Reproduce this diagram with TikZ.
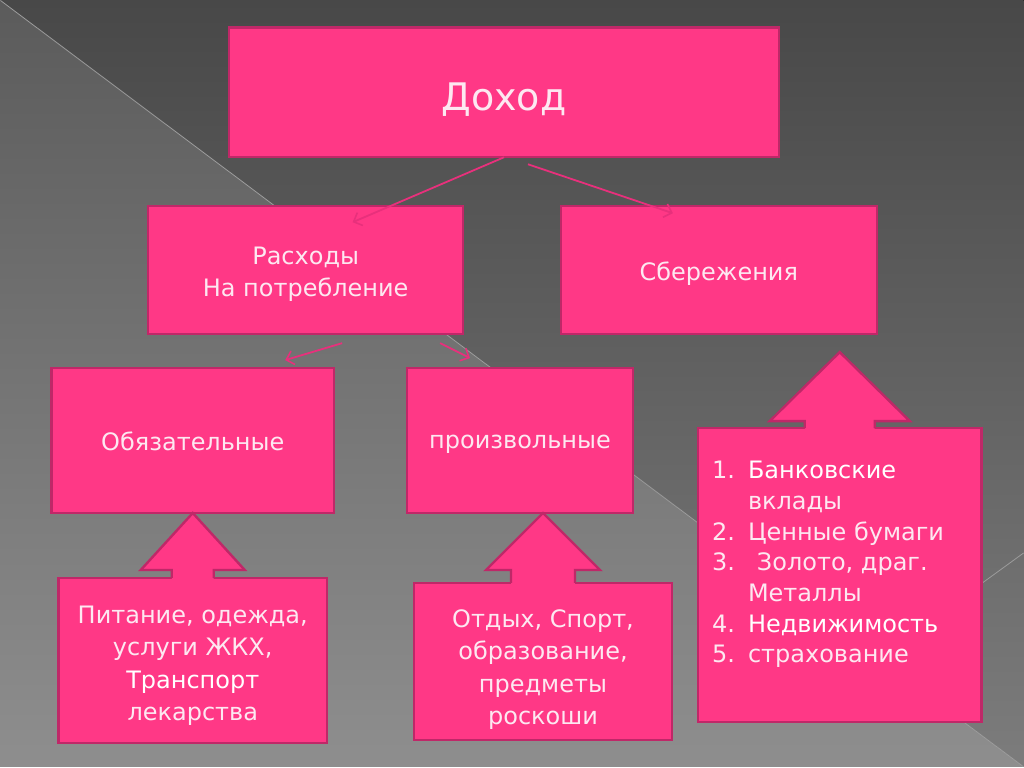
\documentclass[tikz,border=0pt]{standalone}
\usepackage{fontspec}
\setmainfont{DejaVu Sans}
\usetikzlibrary{arrows.meta,calc}
\definecolor{pinkfill}{HTML}{FF3886}
\definecolor{pinkborder}{HTML}{BF2868}
\definecolor{arrowpink}{HTML}{E8307C}
\definecolor{txt}{HTML}{FDE8F1}
\definecolor{bgRtop}{HTML}{484848}
\definecolor{bgRbot}{HTML}{7C7C7C}
\definecolor{bgLtop}{HTML}{5B5B5B}
\definecolor{bgLbot}{HTML}{8E8E8E}
\definecolor{bgline}{HTML}{9C9C9C}
\newcommand\blockup[5]{%
  \fill[pinkfill] (#1) -- ++(#2,#4) -- ++({#3-#2},0) -- ++(0,{#5+3}) -- ++({-2*#3},0) -- ++(0,{-#5-3}) -- ++({#3-#2},0) -- cycle;
  \draw[arrowborder] ($(#1)+(#3,#4+#5)$) -- ++(0,-#5) -- ++({#2-#3},0) -- (#1) -- ++(-#2,#4) -- ++({#2-#3},0) -- ++(0,#5);
}
\newcommand\down[2]{\raisebox{0pt}[\dimexpr\height+#1pt+#1pt\relax][\depth]{#2}}
\newcommand\lines[2]{\down{#1}{\begin{tabular}{@{}c@{}}#2\end{tabular}}}
\begin{document}
\begin{tikzpicture}[x=1pt,y=-1pt,
  box/.style={draw=pinkborder, fill=pinkfill, line width=2.4pt, inner sep=0pt, outer sep=0pt,
    text=txt, align=center, font=\fontsize{24}{32.5}\selectfont},
  arrowborder/.style={draw=pinkborder, line width=2.4pt, line join=miter},
  thinarrow/.style={draw=arrowpink, line width=1.8pt, -{Straight Barb[length=7pt,width=14pt,line width=1.6pt]}}]
% background
\fill[top color=bgRtop, bottom color=bgRbot] (0,0) rectangle (1024,767);
\fill[top color=bgLtop, bottom color=bgLbot] (0,0) -- (1024,767) -- (0,767) -- cycle;
\draw[bgline, line width=0.8pt] (0,0) -- (1024,767);
\draw[bgline, line width=0.8pt] (1024,553) -- (878,659);
\useasboundingbox (0,0) rectangle (1024,767);

% boxes
\node[box, minimum width=550pt, minimum height=130pt, font=\fontsize{38}{44}\selectfont] (dohod) at (504,92) {\down{7}{Доход}};
\node[box, minimum width=315pt, minimum height=128pt] (rash) at (305.5,270) {\lines{4}{Расходы\\На потребление}};
\node[box, minimum width=316pt, minimum height=128pt] (sber) at (719,270) {\down{3}{Сбережения}};
\node[box, minimum width=283pt, minimum height=145pt] (obyaz) at (192.5,440.5) {\down{1}{Обязательные}};
\node[box, minimum width=226pt, minimum height=145pt] (proiz) at (520,440.5) {\down{4}{произвольные}};
\node[box, minimum width=269pt, minimum height=165pt] (leftbot) at (192.5,660.5) {\lines{5}{Питание, одежда,\\услуги ЖКХ,\\\textcolor{white}{Транспорт}\\лекарства}};
\node[box, minimum width=258pt, minimum height=157pt] (midbot) at (543,661.5) {\lines{8}{Отдых, Спорт,\\образование,\\предметы\\роскоши}};
\node[box, minimum width=284pt, minimum height=294pt] (rightbox) at (840,575) {};
\node[anchor=north west, inner sep=0pt, text=txt, align=left, font=\fontsize{24}{30.7}\selectfont] (list) at (712,461)
 {\makebox[36pt][l]{1.}\textcolor{white}{Банковские}\\
  \makebox[36pt][l]{}вклады\\
  \makebox[36pt][l]{2.}Ценные бумаги\\
  \makebox[36pt][l]{3.}\hspace{9pt}Золото, драг.\\
  \makebox[36pt][l]{}Металлы\\
  \makebox[36pt][l]{4.}\textcolor{white}{Недвижимость}\\
  \makebox[36pt][l]{5.}страхование};

% block arrows
\coordinate (tL) at (leftbot.north |- obyaz.south);
\coordinate (tM) at (midbot.north |- proiz.south);
\coordinate (tR) at ($(rightbox.north)+(0,-76)$);
\blockup{tL}{52}{21}{57}{8}
\blockup{tM}{57}{32}{57}{13}
\blockup{tR}{70}{35}{69}{7}

% thin arrows
\coordinate (e1) at ($(rash.north)+(47,16)$);
\coordinate (s2) at ($(dohod.south)+(24,7)$);
\coordinate (e2) at ($(sber.north)+(-46,7)$);
\coordinate (s3) at ($(rash.south)+(36.5,9)$);
\coordinate (e3) at ($(obyaz.north)+(92.5,-8)$);
\coordinate (s4) at ($(rash.south)+(134.5,9)$);
\coordinate (e4) at ($(proiz.north)+(-50,-10)$);
\draw[thinarrow] (dohod.south) -- (e1);
\draw[thinarrow] (s2) -- (e2);
\draw[thinarrow] (s3) -- (e3);
\draw[thinarrow] (s4) -- (e4);
\end{tikzpicture}
\end{document}
